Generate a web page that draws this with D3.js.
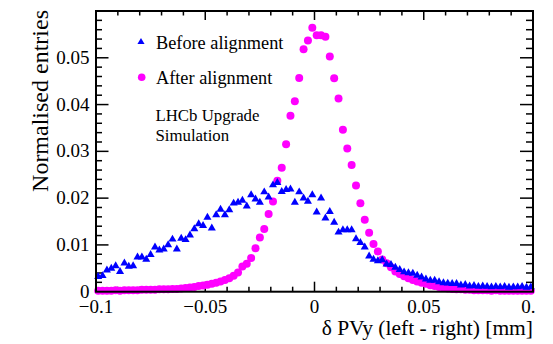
<!DOCTYPE html>
<html>
<head>
<meta charset="utf-8">
<script src="https://cdn.jsdelivr.net/npm/d3@7"></script>
<style>
  body { margin: 0; background: #fff; }
  svg { display: block; font-family: "Liberation Serif", "Times New Roman", serif; }
</style>
</head>
<body>
<svg id="chart" width="553" height="344"></svg>
<script>
// bin centres run from -0.099 to 0.099 in steps of 0.002 (100 bins)
const binCentres = d3.range(100).map(i => +(-0.099 + 0.002 * i).toFixed(3))

// Before alignment (blue triangles)
const before = [
  0.0032, 0.0034, 0.0046, 0.0050, 0.0055, 0.0043, 0.0061, 0.0054, 0.0055, 0.0074,
  0.0074, 0.0069, 0.0079, 0.0095, 0.0089, 0.0091, 0.0100, 0.0112, 0.0091, 0.0114,
  0.0111, 0.0121, 0.0134, 0.0145, 0.0141, 0.0159, 0.0136, 0.0164, 0.0176, 0.0164,
  0.0175, 0.0189, 0.0191, 0.0195, 0.0183, 0.0207, 0.0198, 0.0191, 0.0213, 0.0202,
  0.0228, 0.0233, 0.0214, 0.0218, 0.0219, 0.0191, 0.0213, 0.0200, 0.0193, 0.0207,
  0.0170, 0.0200, 0.0157, 0.0171, 0.0148, 0.0127, 0.0132, 0.0132, 0.0132, 0.0113,
  0.0105, 0.0095, 0.0076, 0.0069, 0.0066, 0.0068, 0.0059, 0.0058, 0.0052, 0.0047,
  0.0042, 0.0040, 0.0039, 0.0035, 0.0031, 0.0027, 0.0024, 0.0024, 0.0021, 0.0019,
  0.0018, 0.0017, 0.0017, 0.0014, 0.0015, 0.0012, 0.0013, 0.0011, 0.0012, 0.0011,
  0.0010, 0.0011, 0.0010, 0.0011, 0.0009, 0.0010, 0.0010, 0.0011, 0.0009, 0.0010
]

// After alignment (magenta circles)
const after = [
  0.0002, 0.0002, 0.0002, 0.0002, 0.0003, 0.0002, 0.0003, 0.0003, 0.0003, 0.0003,
  0.0004, 0.0004, 0.0004, 0.0004, 0.0005, 0.0005, 0.0005, 0.0006, 0.0006, 0.0007,
  0.0008, 0.0009, 0.0010, 0.0012, 0.0013, 0.0015, 0.0017, 0.0019, 0.0022, 0.0025,
  0.0029, 0.0034, 0.0041, 0.0054, 0.0060, 0.0072, 0.0093, 0.0116, 0.0134, 0.0166,
  0.0193, 0.0237, 0.0265, 0.0315, 0.0376, 0.0407, 0.0457, 0.0518, 0.0537, 0.0564,
  0.0548, 0.0548, 0.0545, 0.0503, 0.0456, 0.0413, 0.0346, 0.0306, 0.0271, 0.0227,
  0.0189, 0.0154, 0.0126, 0.0102, 0.0086, 0.0069, 0.0061, 0.0052, 0.0043, 0.0038,
  0.0033, 0.0029, 0.0025, 0.0022, 0.0019, 0.0017, 0.0014, 0.0012, 0.0010, 0.0009,
  0.0007, 0.0006, 0.0005, 0.0005, 0.0004, 0.0004, 0.0003, 0.0003, 0.0003, 0.0003,
  0.0002, 0.0003, 0.0002, 0.0002, 0.0002, 0.0002, 0.0002, 0.0002, 0.0002, 0.0002
]

const xTicks = [-0.1, -0.05, 0, 0.05, 0.1]
const xTickLabels = ['\u22120.1', '\u22120.05', '0', '0.05', '0.1']
const yTicks = [0, 0.01, 0.02, 0.03, 0.04, 0.05]
const yTickLabels = ['0', '0.01', '0.02', '0.03', '0.04', '0.05']

const margin = {top: 11, right: 20, bottom: 52.3, left: 96}
const W = 553, H = 344
const svg = d3.select('#chart')

const x = d3.scaleLinear().domain([-0.1, 0.1]).range([margin.left, W - margin.right])
const y = d3.scaleLinear().domain([0, 0.06]).range([H - margin.bottom, margin.top])

const x0 = x.range()[0], x1 = x.range()[1]
const yB = y.range()[0], yT = y.range()[1]

// minor ticks
const xMinor = d3.range(-0.1, 0.1001, 0.01).map(v => +v.toFixed(3))
const yMinor = d3.range(0, 0.0601, 0.002).map(v => +v.toFixed(4))

const tickG = svg.append('g').attr('stroke', '#000').attr('stroke-width', 1.5)

xMinor.forEach(v => {
  const major = xTicks.some(t => Math.abs(t - v) < 1e-6)
  const len = major ? 10 : 5
  tickG.append('line').attr('x1', x(v)).attr('x2', x(v)).attr('y1', yB).attr('y2', yB - len)
  tickG.append('line').attr('x1', x(v)).attr('x2', x(v)).attr('y1', yT).attr('y2', yT + (major ? 9 : 4.5))
})
yMinor.forEach(v => {
  const major = Math.abs(v * 100 - Math.round(v * 100)) < 1e-6
  const len = major ? 12.5 : 6
  tickG.append('line').attr('x1', x0).attr('x2', x0 + len).attr('y1', y(v)).attr('y2', y(v))
  tickG.append('line').attr('x1', x1).attr('x2', x1 - (major ? 13 : 7)).attr('y1', y(v)).attr('y2', y(v))
})

// tick labels (the last x label is cut at the page edge, as in the original)
const clip = svg.append('clipPath').attr('id', 'pageclip')
clip.append('rect').attr('x', 0).attr('y', 0).attr('width', 536).attr('height', H)

svg.append('g')
  .attr('clip-path', 'url(#pageclip)')
  .selectAll('text')
  .data(xTicks)
  .join('text')
    .attr('x', d => x(d))
    .attr('y', 312.5)
    .attr('text-anchor', 'middle')
    .style('font-size', '19px')
    .text((d, i) => xTickLabels[i])

svg.append('g')
  .selectAll('text')
  .data(yTicks)
  .join('text')
    .attr('x', 89.5)
    .attr('y', d => y(d) + 6)
    .attr('text-anchor', 'end')
    .style('font-size', '19px')
    .text((d, i) => yTickLabels[i])

// data markers: after first, before on top
const ptsAfter = binCentres.map((c, i) => ({c, v: after[i]}))
const ptsBefore = binCentres.map((c, i) => ({c, v: before[i]}))

svg.append('g')
  .attr('fill', '#ff00ff')
  .selectAll('circle')
  .data(ptsAfter)
  .join('circle')
    .attr('cx', d => x(d.c))
    .attr('cy', d => y(d.v))
    .attr('r', 4)

const tri = d3.symbol(d3.symbolTriangle, 28)
svg.append('g')
  .attr('fill', '#0000ff')
  .selectAll('path')
  .data(ptsBefore)
  .join('path')
    .attr('transform', d => `translate(${x(d.c)},${y(d.v)})`)
    .attr('d', tri)

// frame
svg.append('rect')
  .attr('x', x0).attr('y', yT)
  .attr('width', x1 - x0).attr('height', yB - yT)
  .attr('fill', 'none').attr('stroke', '#000').attr('stroke-width', 2)

// axis titles
svg.append('text')
  .attr('x', x1)
  .attr('y', 335)
  .attr('text-anchor', 'end')
  .style('font-size', '21.5px')
  .text('\u03b4 PVy (left - right) [mm]')

svg.append('text')
  .attr('transform', 'translate(47.5,10) rotate(-90)')
  .attr('text-anchor', 'end')
  .style('font-size', '24px')
  .text('Normalised entries')

// legend
svg.append('path')
  .attr('transform', 'translate(141,42)')
  .attr('d', d3.symbol(d3.symbolTriangle, 22))
  .attr('fill', '#0000ff')
svg.append('text').attr('x', 156).attr('y', 48.5).style('font-size', '18.3px').text('Before alignment')

svg.append('circle').attr('cx', 141.7).attr('cy', 77.3).attr('r', 3.8).attr('fill', '#ff00ff')
svg.append('text').attr('x', 156).attr('y', 84.3).style('font-size', '18.3px').text('After alignment')

svg.append('text').attr('x', 155.5).attr('y', 120.5).style('font-size', '16.8px').text('LHCb Upgrade')
svg.append('text').attr('x', 155.5).attr('y', 140.5).style('font-size', '16.8px').text('Simulation')
</script>
</body>
</html>
